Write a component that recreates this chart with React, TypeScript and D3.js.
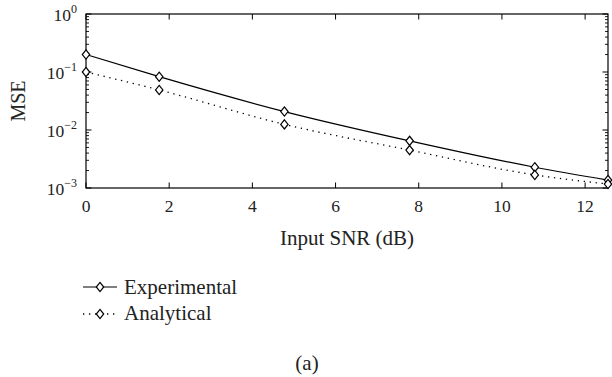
import React from "react";
import * as d3 from "d3";

const snrDb = [0, 1.76, 4.77, 7.78, 10.79, 12.55];
const experimental = [0.2, 0.083, 0.0208, 0.0065, 0.00228, 0.00137];
const analytical = [0.1, 0.049, 0.0125, 0.0045, 0.00168, 0.00117];
const xTicks = [0, 2, 4, 6, 8, 10, 12];
const yExponents = [0, -1, -2, -3];
const seriesNames = ["Experimental", "Analytical"];

const W = 612;
const H = 377;
const M = { left: 86, right: 608, top: 14, bottom: 188 };
const FONT = "'Liberation Serif', 'Times New Roman', serif";

function Diamond({ cx, cy }: { cx: number; cy: number }) {
  const hw = 3.7;
  const hh = 4.6;
  return (
    <path
      d={`M${cx},${cy - hh}L${cx + hw},${cy}L${cx},${cy + hh}L${cx - hw},${cy}Z`}
      fill="white"
      stroke="black"
      strokeWidth={1.2}
    />
  );
}

export default function App() {
  const x = d3.scaleLinear().domain([0, 12.55]).range([M.left, M.right]);
  const y = d3.scaleLog().domain([1e-3, 1]).range([M.bottom, M.top]);

  const line = d3
    .line<[number, number]>()
    .x((d) => x(d[0]))
    .y((d) => y(d[1]))
    .curve(d3.curveMonotoneX);

  const expPts = snrDb.map((s, i) => [s, experimental[i]] as [number, number]);
  const anaPts = snrDb.map((s, i) => [s, analytical[i]] as [number, number]);

  const minor: number[] = [];
  for (let e = -3; e < 0; e++) {
    for (let k = 2; k <= 9; k++) minor.push(k * Math.pow(10, e));
  }

  return (
    <div style={{ position: "absolute", left: 0, top: 0 }}>
      <svg width={W} height={H} style={{ display: "block", background: "white" }}>
        <rect x={0} y={0} width={W} height={H} fill="white" />
        {/* series lines */}
        <path d={line(expPts) || ""} fill="none" stroke="black" strokeWidth={1.2} />
        <path
          d={line(anaPts) || ""}
          fill="none"
          stroke="black"
          strokeWidth={1.3}
          strokeDasharray="1.3,4.7"
        />
        {/* frame */}
        <rect
          x={M.left}
          y={M.top}
          width={M.right - M.left}
          height={M.bottom - M.top}
          fill="none"
          stroke="black"
          strokeWidth={1.2}
        />
        {/* x ticks */}
        {xTicks.map((t) => (
          <g key={"xt" + t}>
            <line x1={x(t)} x2={x(t)} y1={M.bottom} y2={M.bottom - 5.5} stroke="black" strokeWidth={1} />
            <line x1={x(t)} x2={x(t)} y1={M.top} y2={M.top + 5.5} stroke="black" strokeWidth={1} />
            <text
              x={x(t)}
              y={212}
              textAnchor="middle"
              fontFamily={FONT}
              fontSize={17.5}
              fill="#222"
            >
              {t}
            </text>
          </g>
        ))}
        {/* y major ticks */}
        {yExponents.map((e) => {
          const yy = y(Math.pow(10, e));
          return (
            <g key={"ye" + e}>
              <line x1={M.left} x2={M.left + 5.5} y1={yy} y2={yy} stroke="black" strokeWidth={1} />
              <line x1={M.right} x2={M.right - 5.5} y1={yy} y2={yy} stroke="black" strokeWidth={1} />
              <text x={77} y={yy + 7} textAnchor="end" fontFamily={FONT} fontSize={17.5} fill="#222">
                10
                <tspan fontSize={12} dy={-8}>
                  {e === 0 ? "0" : "\u2212" + Math.abs(e)}
                </tspan>
              </text>
            </g>
          );
        })}
        {/* y minor ticks */}
        {minor.map((v) => (
          <g key={"ym" + v}>
            <line x1={M.left} x2={M.left + 3} y1={y(v)} y2={y(v)} stroke="black" strokeWidth={0.9} />
            <line x1={M.right} x2={M.right - 3} y1={y(v)} y2={y(v)} stroke="black" strokeWidth={0.9} />
          </g>
        ))}
        {/* markers */}
        {expPts.map((p, i) => (
          <Diamond key={"em" + i} cx={x(p[0])} cy={y(p[1])} />
        ))}
        {anaPts.map((p, i) => (
          <Diamond key={"am" + i} cx={x(p[0])} cy={y(p[1])} />
        ))}
        {/* axis labels */}
        <text
          x={(M.left + M.right) / 2}
          y={245}
          textAnchor="middle"
          fontFamily={FONT}
          fontSize={21}
          fill="#222"
        >
          Input SNR (dB)
        </text>
        <text
          transform={`translate(25,${(M.top + M.bottom) / 2}) rotate(-90)`}
          textAnchor="middle"
          fontFamily={FONT}
          fontSize={20}
          fill="#222"
        >
          MSE
        </text>
        {/* legend */}
        <line x1={83} x2={117} y1={287} y2={287} stroke="black" strokeWidth={1.2} />
        <Diamond cx={100} cy={287} />
        <text x={124} y={293.5} fontFamily={FONT} fontSize={21} fill="#222">
          {seriesNames[0]}
        </text>
        <line
          x1={83}
          x2={118}
          y1={314}
          y2={314}
          stroke="black"
          strokeWidth={1.3}
          strokeDasharray="1.3,4.7"
        />
        <Diamond cx={100} cy={314} />
        <text x={124} y={320} fontFamily={FONT} fontSize={21} fill="#222">
          {seriesNames[1]}
        </text>
        <text x={307} y={370} textAnchor="middle" fontFamily={FONT} fontSize={21} fill="#222">
          (a)
        </text>
      </svg>
    </div>
  );
}
